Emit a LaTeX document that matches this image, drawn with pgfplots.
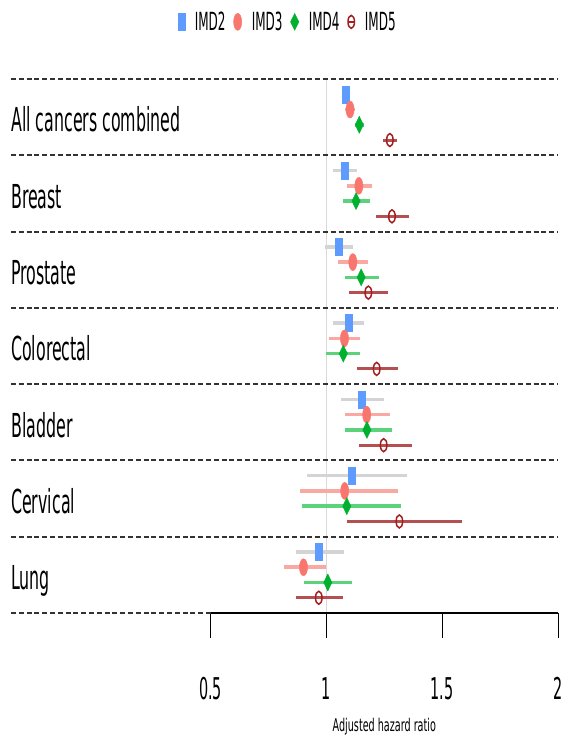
\documentclass[border=0pt]{standalone}
\usepackage{pgfplots}
\pgfplotsset{compat=1.18}
\usepackage{pgfplotstable}
\usepackage{fontspec}
\setmainfont{DejaVu Sans}
\newfontfamily\narrowfont[FakeStretch=0.48]{DejaVu Sans}
\newfontfamily\narrowfontB[FakeStretch=0.55]{DejaVu Sans}

\definecolor{imdtwo}{HTML}{5E9BFF}
\definecolor{imdtwoci}{HTML}{D4D4D4}
\definecolor{imdthree}{HTML}{F8766D}
\definecolor{imdthreeci}{HTML}{F9A8A2}
\definecolor{imdfour}{HTML}{00B02E}
\definecolor{imdfourci}{HTML}{5CD27A}
\definecolor{imdfive}{HTML}{A31F1F}
\definecolor{imdfiveci}{HTML}{B65050}
\definecolor{sepgray}{HTML}{333333}

% legend symbol for IMD5: open ring with a bar through it
\pgfplotsset{
  ring legend/.code={%
    \pgfplotsset{legend image code/.code={%
      \draw[imdfive, line width=1.3pt] (-3pt,0pt) -- (3pt,0pt);
      \draw[##1] plot coordinates {(0pt,0pt)};}}%
  }
}

% hazard ratio (x), row position (y), 95% CI (lo, hi)
% rows: all cancers, breast, prostate, colorectal, bladder, cervical, lung
\pgfplotstableread{
x     y    lo     hi
1.085 -1   1.068  1.102
1.080 -6   1.030  1.130
1.052 -11  0.994  1.113
1.095 -16  1.030  1.164
1.152 -21  1.063  1.250
1.110 -26  0.914  1.350
0.967 -31  0.869  1.075
}\imdtwotab

\pgfplotstableread{
x     y    lo     hi
1.102 -2   1.082  1.122
1.140 -7   1.088  1.197
1.114 -12  1.049  1.180
1.078 -17  1.010  1.145
1.174 -22  1.080  1.274
1.079 -27  0.888  1.307
0.901 -32  0.815  1.000
}\imdthreetab

\pgfplotstableread{
x     y    lo     hi
1.142 -3   1.122  1.162
1.128 -8   1.070  1.190
1.150 -13  1.079  1.225
1.073 -18  1.000  1.145
1.175 -23  1.082  1.283
1.088 -28  0.895  1.322
1.006 -33  0.904  1.110
}\imdfourtab

\pgfplotstableread{
x     y    lo     hi
1.274 -4   1.245  1.305
1.283 -9   1.214  1.358
1.181 -14  1.099  1.268
1.217 -19  1.134  1.307
1.247 -24  1.139  1.368
1.315 -29  1.089  1.585
0.967 -34  0.869  1.070
}\imdfivetab

\begin{document}
\begin{tikzpicture}
\useasboundingbox (-11pt,-127pt) rectangle (555pt,613pt);
\begin{axis}[
  at={(0,0)}, anchor=south west,
  scale only axis, width=547pt, height=534pt,
  xmin=-0.362, xmax=2, ymin=-35, ymax=0,
  clip=false,
  axis line style={draw=none},
  ytick=\empty,
  xtick={0.5,1,1.5,2},
  xticklabels={0.5,1,1.5,2},
  xtick pos=bottom,
  tick align=outside,
  major tick length=25pt,
  x tick style={black, line width=1pt},
  xticklabel style={font=\narrowfont\fontsize{30}{30}\selectfont, anchor=base, yshift=-61pt},
  xlabel={Adjusted hazard ratio},
  xlabel style={at={(axis description cs:0.6825,0)}, anchor=base, yshift=-118pt,
    font=\narrowfontB\fontsize{17.5}{17.5}\selectfont},
  legend columns=4,
  legend style={at={(axis description cs:0.504,1.107)}, anchor=center,
    draw=none, fill=none, font=\narrowfont\fontsize{25}{25}\selectfont,
    nodes={inner xsep=0pt, inner ysep=2pt},
    /tikz/every odd column/.append style={column sep=10pt},
    /tikz/every even column/.append style={column sep=8pt}},
  error bars/error mark=none,
]
% reference line at a hazard ratio of 1
\draw[black!15, line width=1.2pt] (axis cs:1,0) -- (axis cs:1,-35);
% dashed separators between cancer sites
\pgfplotsinvokeforeach{0,5,10,15,20,25,30,35}{
  \draw[sepgray, line width=2pt, dash pattern=on 5pt off 2.8pt] (axis cs:-0.362,-#1) -- (axis cs:2,-#1);
}

\addplot[only marks, color=imdtwo, mark=square*, mark size=8.5pt,
  mark options={xscale=0.42},
  error bars/.cd, x dir=both, x explicit,
  error bar style={line width=3.5pt, imdtwoci}]
  table[x=x, y=y, x error plus expr=\thisrow{hi}-\thisrow{x}, x error minus expr=\thisrow{x}-\thisrow{lo}] {\imdtwotab};
\addlegendentry{IMD2}

\addplot[only marks, color=imdthree, mark=*, mark size=8.5pt,
  mark options={xscale=0.48},
  error bars/.cd, x dir=both, x explicit,
  error bar style={line width=3.5pt, imdthreeci}]
  table[x=x, y=y, x error plus expr=\thisrow{hi}-\thisrow{x}, x error minus expr=\thisrow{x}-\thisrow{lo}] {\imdthreetab};
\addlegendentry{IMD3}

\addplot[only marks, color=imdfour, mark=diamond*, mark size=8.5pt,
  mark options={xscale=0.65},
  error bars/.cd, x dir=both, x explicit,
  error bar style={line width=3.5pt, imdfourci}]
  table[x=x, y=y, x error plus expr=\thisrow{hi}-\thisrow{x}, x error minus expr=\thisrow{x}-\thisrow{lo}] {\imdfourtab};
\addlegendentry{IMD4}

\addplot[only marks, color=imdfive, mark=o, mark size=6.5pt,
  mark options={xscale=0.5, line width=1.5pt},
  ring legend,
  error bars/.cd, x dir=both, x explicit,
  error bar style={line width=3pt, imdfiveci}]
  table[x=x, y=y, x error plus expr=\thisrow{hi}-\thisrow{x}, x error minus expr=\thisrow{x}-\thisrow{lo}] {\imdfivetab};
\addlegendentry{IMD5}

% x axis line spanning the tick range
\draw[black, line width=1.3pt] (axis cs:0.5,-35) -- (axis cs:2,-35);

% cancer site labels
\node[anchor=base west, inner sep=0pt, font=\narrowfont\fontsize{33}{33}\selectfont] at (axis cs:-0.362,-3.47) {All cancers combined};
\node[anchor=base west, inner sep=0pt, font=\narrowfont\fontsize{33}{33}\selectfont] at (axis cs:-0.362,-8.47) {Breast};
\node[anchor=base west, inner sep=0pt, font=\narrowfont\fontsize{33}{33}\selectfont] at (axis cs:-0.362,-13.47) {Prostate};
\node[anchor=base west, inner sep=0pt, font=\narrowfont\fontsize{33}{33}\selectfont] at (axis cs:-0.362,-18.47) {Colorectal};
\node[anchor=base west, inner sep=0pt, font=\narrowfont\fontsize{33}{33}\selectfont] at (axis cs:-0.362,-23.47) {Bladder};
\node[anchor=base west, inner sep=0pt, font=\narrowfont\fontsize{33}{33}\selectfont] at (axis cs:-0.362,-28.47) {Cervical};
\node[anchor=base west, inner sep=0pt, font=\narrowfont\fontsize{33}{33}\selectfont] at (axis cs:-0.362,-33.47) {Lung};
\end{axis}
\end{tikzpicture}
\end{document}
